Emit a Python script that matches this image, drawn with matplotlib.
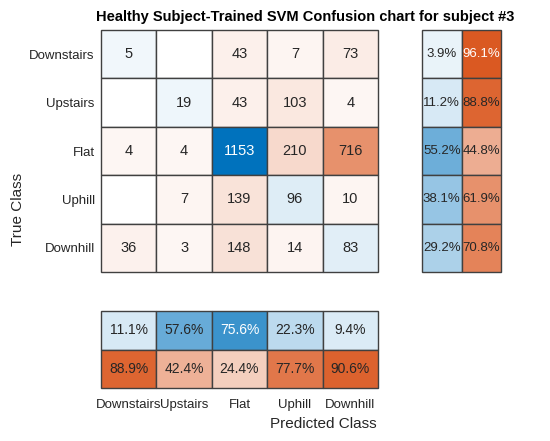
import numpy as np
import matplotlib
matplotlib.use("Agg")
import matplotlib.pyplot as plt
from matplotlib.patches import Rectangle

plt.rcParams['font.family'] = ['Liberation Sans', 'DejaVu Sans']

classes = ["Downstairs", "Upstairs", "Flat", "Uphill", "Downhill"]
counts = np.array([
    [5,   0,   43,   7,   73],
    [0,   19,  43,   103, 4],
    [4,   4,   1153, 210, 716],
    [0,   7,   139,  96,  10],
    [36,  3,   148,  14,  83],
])
row_correct = [3.9, 11.2, 55.2, 38.1, 29.2]
row_wrong = [96.1, 88.8, 44.8, 61.9, 70.8]
col_correct = [11.1, 57.6, 75.6, 22.3, 9.4]
col_wrong = [88.9, 42.4, 24.4, 77.7, 90.6]

title = "Healthy Subject-Trained SVM Confusion chart for subject #3"

BLUE = np.array([0, 114, 189]) / 255
ORANGE = np.array([217, 83, 25]) / 255
EDGE = (0.25, 0.25, 0.25)
TXT = (0.15, 0.15, 0.15)


def blend(c, a):
    return np.ones(3) * (1 - a) + c * a


def txtcol(is_blue, a):
    if is_blue:
        return 'white' if a > 0.7 else TXT
    return 'white' if a > 0.93 else TXT


def cell(ax, x, y, frac, is_blue, label, fs=9.5):
    a = 0.05 + 0.95 * frac if frac > 0 else 0.0
    ax.add_patch(Rectangle((x, y), 1, 1, facecolor=blend(BLUE if is_blue else ORANGE, a),
                           edgecolor=EDGE, linewidth=1.0, clip_on=False))
    if label:
        ax.text(x + 0.5, y + 0.5, label, ha='center', va='center', fontsize=fs,
                color=txtcol(is_blue, frac))


W, H = 550, 441
fig = plt.figure(figsize=(W / 100, H / 100), dpi=100)

def ax_px(l, t, r, b):
    return fig.add_axes([l / W, 1 - b / H, (r - l) / W, (b - t) / H])

ax = ax_px(101, 30, 378, 272)
axr = ax_px(422, 30, 501, 272)
axc = ax_px(101, 311, 378, 388)

n = len(classes)
mx = counts.max()
for i in range(n):
    for j in range(n):
        v = counts[i, j]
        cell(ax, j, i, v / mx, i == j, str(v) if v > 0 else "", fs=10.5)
ax.set_xlim(0, n)
ax.set_ylim(n, 0)
ax.set_xticks([])
ax.set_yticks(np.arange(n) + 0.5)
ax.set_yticklabels(classes, fontsize=9.5, color=TXT)
ax.tick_params(axis='y', length=0, pad=4.5)

for i in range(n):
    cell(axr, 0, i, row_correct[i] / 100, True, f"{row_correct[i]:.1f}%")
    cell(axr, 1, i, row_wrong[i] / 100, False, f"{row_wrong[i]:.1f}%")
axr.set_xlim(0, 2)
axr.set_ylim(n, 0)
axr.set_xticks([])
axr.set_yticks([])

for j in range(n):
    cell(axc, j, 0, col_correct[j] / 100, True, f"{col_correct[j]:.1f}%", fs=10)
    cell(axc, j, 1, col_wrong[j] / 100, False, f"{col_wrong[j]:.1f}%", fs=10)
axc.set_xlim(0, n)
axc.set_ylim(2, 0)
axc.set_yticks([])
axc.set_xticks(np.arange(n) + 0.5)
axc.set_xticklabels(classes, fontsize=9.5, color=TXT)
axc.tick_params(axis='x', length=0, pad=8)

for a_ in (ax, axr, axc):
    for s in a_.spines.values():
        s.set_visible(False)

fig.text(305 / W, 1 - 17 / H, title, ha='center', va='center', fontsize=10.5,
         fontweight='bold', color='black')
fig.text(18 / W, 1 - 209 / H, "True Class", ha='center', va='center', rotation=90,
         fontsize=11, color=TXT)
fig.text(323 / W, 1 - 424 / H, "Predicted Class", ha='center', va='center',
         fontsize=11, color=TXT)

fig.savefig("out.png", dpi=100)
